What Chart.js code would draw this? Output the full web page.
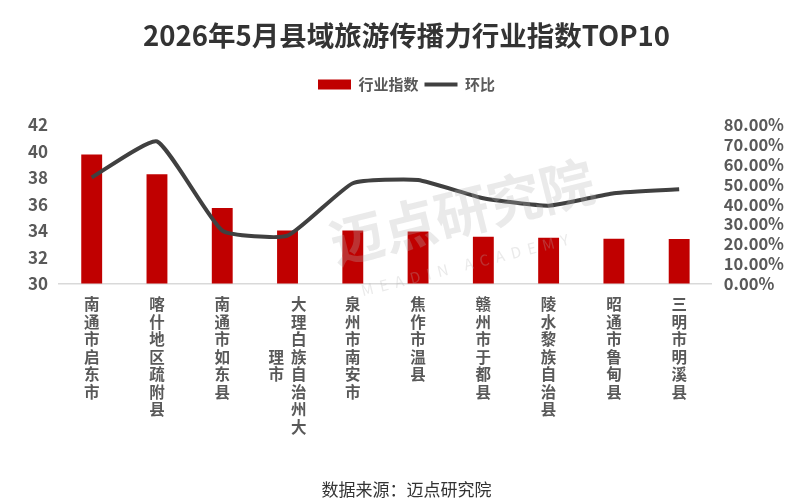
<!DOCTYPE html>
<html>
<head>
<meta charset="utf-8">
<script src="https://cdn.jsdelivr.net/npm/chart.js@4.4.1/dist/chart.umd.min.js"></script>
<style>
    html, body { margin: 0; padding: 0; background: #ffffff; }
    #wrap { width: 800px; height: 504px; }
</style>
</head>
<body>
<div id="wrap"><canvas id="myChart"></canvas></div>
<script>
// dados do gráfico
var categorias = ['南通市启东市', '喀什地区疏附县', '南通市如东县', '大理白族自治州大理市', '泉州市南安市',
    '焦作市温县', '赣州市于都县', '陵水黎族自治县', '昭通市鲁甸县', '三明市明溪县'];
var indice = [39.77, 38.27, 35.72, 34.01, 34.01, 33.94, 33.54, 33.46, 33.39, 33.36];
var huanbi = [53.5, 71.7, 26.7, 24.1, 50.6, 52.2, 43.0, 39.3, 45.6, 47.6];
var ticksEsq = [30, 32, 34, 36, 38, 40, 42];
var ticksDir = [0, 10, 20, 30, 40, 50, 60, 70, 80];

var fonte = "'Noto Sans CJK SC', 'Noto Sans', sans-serif";
var cinza = '#595959';

// texto vertical: 8 caracteres por coluna, a segunda coluna fica à esquerda e centrada
function vertical(txt) {
    var chars = txt.split('');
    if (chars.length <= 8) return chars;
    var col1 = chars.slice(0, 8);
    var col2 = chars.slice(8);
    var inicio = Math.floor((col1.length - col2.length) / 2);
    var linhas = [];
    for (let i = 0; i < col1.length; i++) {
        let c2 = (i >= inicio && i < inicio + col2.length) ? col2[i - inicio] : '\u3000';
        linhas.push(c2 + '  ' + col1[i]);
    }
    return linhas;
}

// marca de água
var marcaAgua = {
    id: 'marcaAgua',
    afterDatasetsDraw: function (chart) {
        var ctx = chart.ctx;
        ctx.save();
        ctx.translate(462, 212);
        ctx.rotate(-14 * Math.PI / 180);
        ctx.fillStyle = 'rgba(180,180,180,0.28)';
        ctx.textAlign = 'center';
        ctx.textBaseline = 'middle';
        ctx.font = "bold 54px " + fonte;
        ctx.fillText('迈点研究院', 0, 0);
        ctx.font = "15px " + fonte;
        ctx.fillText('M  E  A  D  I  N     A  C  A  D  E  M  Y', -10, 52);
        ctx.restore();
    }
};

// mais espaço por baixo da legenda
var espacoLegenda = {
    id: 'espacoLegenda',
    beforeInit: function (chart) {
        var fitOriginal = chart.legend.fit;
        chart.legend.fit = function () {
            fitOriginal.bind(chart.legend)();
            this.height += 23;
        };
    }
};

var ctx = document.getElementById('myChart').getContext('2d');
var myChart = new Chart(ctx, {
    data: {
        labels: categorias,
        datasets: [{
            type: 'line',
            label: '环比',
            data: huanbi,
            yAxisID: 'y1',
            borderColor: '#404040',
            backgroundColor: '#404040',
            borderWidth: 4,
            pointRadius: 0,
            tension: 0.15,
            order: 1
        }, {
            type: 'bar',
            label: '行业指数',
            data: indice,
            yAxisID: 'y',
            backgroundColor: '#C00000',
            borderWidth: 0,
            barPercentage: 0.32,
            categoryPercentage: 1,
            order: 2
        }]
    },
    options: {
        responsive: true,
        maintainAspectRatio: false,
        animation: false,
        layout: {
            padding: { left: 17, right: 4, top: 0, bottom: 0 }
        },
        plugins: {
            title: {
                display: true,
                text: '2026年5月县域旅游传播力行业指数TOP10',
                color: '#333333',
                font: { family: fonte, size: 27.5, weight: 'bold' },
                padding: { top: 19, bottom: 19 }
            },
            subtitle: {
                display: true,
                position: 'bottom',
                text: '数据来源：迈点研究院',
                color: '#333333',
                font: { family: fonte, size: 17, weight: 'normal' },
                padding: { top: 32, bottom: 4 }
            },
            legend: {
                display: true,
                reverse: true,
                labels: {
                    color: cinza,
                    font: { family: fonte, size: 15, weight: 'bold' },
                    usePointStyle: true,
                    pointStyleWidth: 33,
                    boxHeight: 10,
                    padding: 6,
                    generateLabels: function (chart) {
                        var itens = Chart.defaults.plugins.legend.labels.generateLabels(chart);
                        for (let it of itens) {
                            it.pointStyle = chart.data.datasets[it.datasetIndex].type === 'line' ? 'line' : 'rect';
                        }
                        return itens;
                    }
                }
            },
            tooltip: { enabled: false }
        },
        scales: {
            x: {
                grid: { display: false, drawTicks: false },
                border: { display: true, color: '#d9d9d9', width: 1.5 },
                ticks: {
                    color: cinza,
                    font: { family: fonte, size: 15.5, weight: 'bold', lineHeight: 1.13 },
                    padding: 12,
                    autoSkip: false,
                    maxRotation: 0,
                    minRotation: 0,
                    callback: function (v, i) { return vertical(categorias[i]); }
                }
            },
            y: {
                position: 'left',
                min: ticksEsq[0],
                max: ticksEsq[ticksEsq.length - 1],
                grid: { display: false, drawTicks: false },
                border: { display: false },
                afterBuildTicks: function (axis) {
                    axis.ticks = ticksEsq.map(function (v) { return { value: v }; });
                },
                ticks: {
                    color: cinza,
                    font: { family: fonte, size: 17, weight: 'bold' },
                    padding: 11,
                    autoSkip: false
                }
            },
            y1: {
                position: 'right',
                min: ticksDir[0],
                max: ticksDir[ticksDir.length - 1],
                grid: { display: false, drawTicks: false },
                border: { display: false },
                afterBuildTicks: function (axis) {
                    axis.ticks = ticksDir.map(function (v) { return { value: v }; });
                },
                ticks: {
                    color: cinza,
                    font: { family: fonte, size: 16.5, weight: 'bold', lineHeight: 1 },
                    padding: 12,
                    autoSkip: false,
                    callback: function (v) { return v.toFixed(2) + '%'; }
                }
            }
        }
    },
    plugins: [marcaAgua, espacoLegenda]
});
</script>
</body>
</html>
